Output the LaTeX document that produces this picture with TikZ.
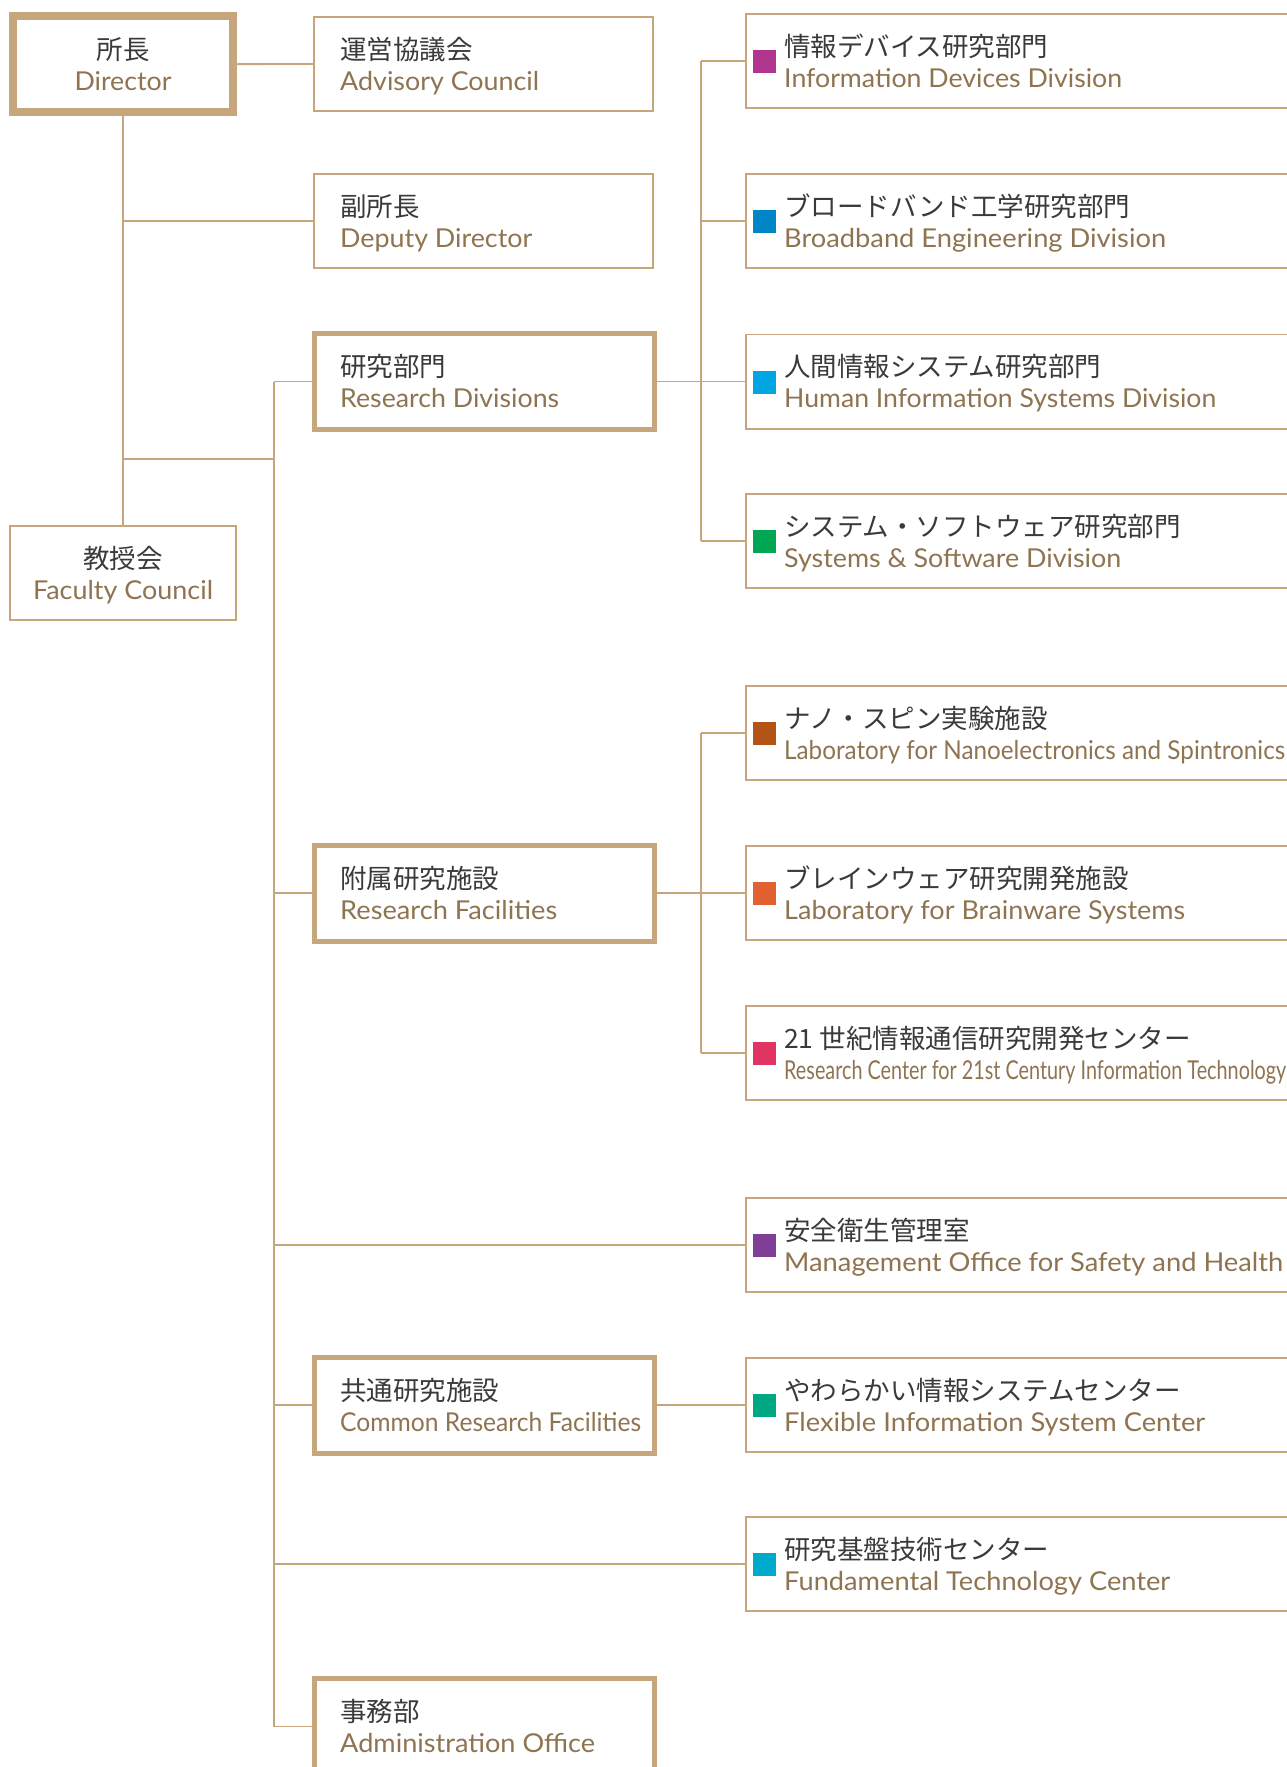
\documentclass[tikz,border=0pt]{standalone}
\usepackage{fontspec}
\usepackage{graphicx}
\setmainfont{Lato}
\newfontfamily\jpf{Noto Sans CJK JP}
\definecolor{boxtan}{HTML}{C6A67C}
\definecolor{entxt}{HTML}{8E7450}
\definecolor{jptxt}{HTML}{3A3A3A}
\definecolor{sqA}{HTML}{B0358E}
\definecolor{sqB}{HTML}{0085C7}
\definecolor{sqC}{HTML}{00A6E3}
\definecolor{sqD}{HTML}{00A651}
\definecolor{sqE}{HTML}{B35315}
\definecolor{sqF}{HTML}{E26131}
\definecolor{sqG}{HTML}{E23462}
\definecolor{sqH}{HTML}{7F3F98}
\definecolor{sqI}{HTML}{00A783}
\definecolor{sqJ}{HTML}{00AACB}
\newsavebox\fitbox
\newcommand\fitto[2]{\sbox\fitbox{#2}\pgfmathsetmacro\fitratio{#1/\wd\fitbox}\scalebox{\fitratio}[1]{\usebox\fitbox}}
\tikzset{
  conn/.style={draw=boxtan, line width=1.8pt},
  lbox/.style={draw=boxtan, line width=1.6pt, rectangle, inner sep=0pt, minimum width=339.4pt, minimum height=94.4pt},
  kbox/.style={draw=boxtan, line width=5pt, rectangle, inner sep=0pt, minimum width=340pt, minimum height=96pt},
  dbox/.style={draw=boxtan, line width=7.7pt, rectangle, inner sep=0pt, minimum width=220.3pt, minimum height=96pt},
  rbox/.style={draw=boxtan, line width=1.6pt, rectangle, inner sep=0pt, minimum width=564pt, minimum height=94.4pt},
  sqbox/.style={rectangle, inner sep=0pt, minimum size=23pt, draw=none},
  jptext/.style={font=\jpf\fontsize{26.5}{30}\selectfont, text=jptxt, inner sep=0pt, anchor=base west},
  entext/.style={font=\fontsize{26}{30}\selectfont, text=entxt, inner sep=0pt, anchor=base west},
}
\newcommand\orgunit[6]{%
  \node[rbox] (#1) at (1027.8,#2) {};
  \node[sqbox, fill=#3] (#1-sq) at (764.5,#2+0.5) {};
  \node[jptext] (#1-jp) at (784,#2-5) {#4};
  \node[entext] (#1-en) at (784,#2+26) {\fitto{#6}{#5}};
}
\newcommand\leftunit[7]{%
  \node[#6] (#1) at (#7,#2) {};
  \node[jptext] (#1-jp) at (340,#2-5) {#3};
  \node[entext] (#1-en) at (340,#2+26) {\fitto{#5}{#4}};
}
\begin{document}
\begin{tikzpicture}[x=1pt,y=-1pt]
\clip (0,0) rectangle (1287,1767);
\fill[white] (0,0) rectangle (1287,1767);

% director and faculty council
\node[dbox] (dir) at (123,64.15) {};
\node[jptext, anchor=base] (dir-jp) at (123,59) {所長};
\node[entext, anchor=base] (dir-en) at (123,90) {\fitto{97}{Director}};
\node[lbox, minimum width=226.4pt] (fac) at (123,573) {};
\node[jptext, anchor=base] (fac-jp) at (123,568) {教授会};
\node[entext, anchor=base] (fac-en) at (123,599) {\fitto{180}{Faculty Council}};

% left column
\leftunit{adv}{64}{運営協議会}{Advisory Council}{199}{lbox}{483.5}
\leftunit{dep}{221}{副所長}{Deputy Director}{192}{lbox}{483.5}
\leftunit{rd}{381.5}{研究部門}{Research Divisions}{219}{kbox}{484.5}
\leftunit{rf}{893}{附属研究施設}{Research Facilities}{217}{kbox}{484.5}
\leftunit{crf}{1405}{共通研究施設}{Common Research Facilities}{301}{kbox}{484.5}
\leftunit{adm}{1726.5}{事務部}{Administration Office}{255}{kbox}{484.5}

% right column
\orgunit{info}{61}{sqA}{情報デバイス研究部門}{Information Devices Division}{338}
\orgunit{bb}{221}{sqB}{ブロードバンド工学研究部門}{Broadband Engineering Division}{382}
\orgunit{hum}{381.5}{sqC}{人間情報システム研究部門}{Human Information Systems Division}{432}
\orgunit{sys}{541}{sqD}{システム・ソフトウェア研究部門}{Systems \& Software Division}{337}
\orgunit{nano}{733}{sqE}{ナノ・スピン実験施設}{Laboratory for Nanoelectronics and Spintronics}{501}
\orgunit{brain}{893}{sqF}{ブレインウェア研究開発施設}{Laboratory for Brainware Systems}{401}
\orgunit{cent}{1053}{sqG}{21 世紀情報通信研究開発センター}{Research Center for 21st Century Information Technology}{502}
\orgunit{safe}{1245}{sqH}{安全衛生管理室}{Management Office for Safety and Health}{499}
\orgunit{flex}{1405}{sqI}{やわらかい情報システムセンター}{Flexible Information System Center}{421}
\orgunit{fund}{1564}{sqJ}{研究基盤技術センター}{Fundamental Technology Center}{386}

% trunk coordinates
\coordinate (jl) at (274,459);
\coordinate (jr) at (701,0);

% connectors
\draw[conn] (dir.east) -- (adv.west);
\draw[conn] (dir.south) -- (fac.north);
\draw[conn] (dir.south |- dep.west) -- (dep.west);
\draw[conn] (dir.south |- jl) -- (jl);
\draw[conn] (rd.west -| jl) -- (adm.west -| jl);
\foreach \b in {rd,rf,safe,crf,fund,adm}{
  \draw[conn] (\b.west -| jl) -- (\b.west);
}
\draw[conn] (rd.east) -- (rd.east -| jr);
\draw[conn] (info.west -| jr) -- (sys.west -| jr);
\foreach \b in {info,bb,hum,sys}{
  \draw[conn] (\b.west -| jr) -- (\b.west);
}
\draw[conn] (rf.east) -- (rf.east -| jr);
\draw[conn] (nano.west -| jr) -- (cent.west -| jr);
\foreach \b in {nano,brain,cent}{
  \draw[conn] (\b.west -| jr) -- (\b.west);
}
\draw[conn] (crf.east) -- (flex.west);
\end{tikzpicture}
\end{document}
